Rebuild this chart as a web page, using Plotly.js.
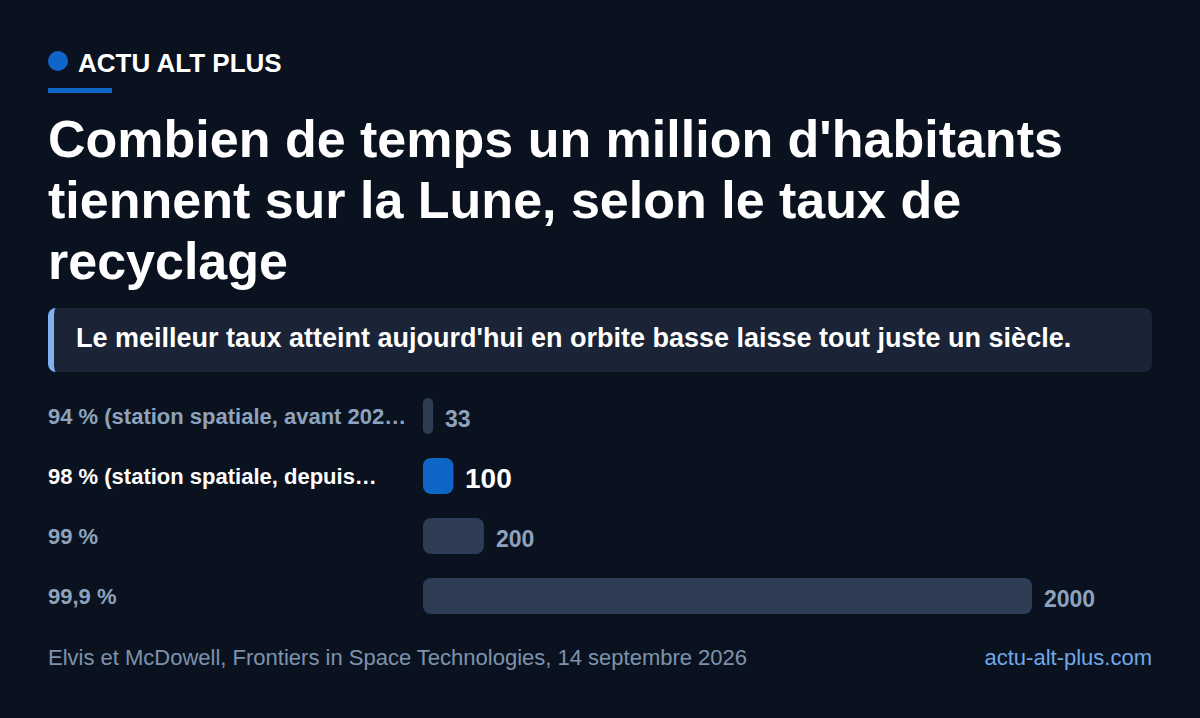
<!DOCTYPE html>
<html>
<head>
<meta charset="utf-8">
<script src="https://cdn.plot.ly/plotly-3.0.1.min.js"></script>
<style>
  html, body { margin: 0; padding: 0; background: #0b121f; }
  body { width: 1200px; height: 718px; position: relative; overflow: hidden;
         font-family: "Liberation Sans", Arial, sans-serif; }
  .brand { position: absolute; left: 48px; top: 47px; color: #ffffff; font-weight: bold;
           font-size: 26px; line-height: 32px; }
  .brand .dot { position: absolute; left: 0; top: 4px; width: 20px; height: 20px;
                border-radius: 50%; background: #0f66c8; }
  .brand .name { position: absolute; left: 30px; top: 0; white-space: nowrap; }
  .rule { position: absolute; left: 48px; top: 88px; width: 64px; height: 5px; background: #0f66c8; }
  h1 { position: absolute; left: 48px; top: 109px; width: 1110px; margin: 0; color: #ffffff;
       font-size: 52px; line-height: 61px; font-weight: bold; }
  .note { position: absolute; left: 48px; top: 308px; width: 1104px; height: 64px;
          background: #1a2436; border-radius: 8px; box-sizing: border-box;
          border-left: 6px solid #7fb2ee; }
  .note span { position: absolute; left: 22px; top: 14px; color: #ffffff; font-weight: bold;
               font-size: 27px; line-height: 32px; white-space: nowrap; }
  #chart { position: absolute; left: 0; top: 386px; width: 1200px; height: 240px; }
  .src { position: absolute; left: 48px; top: 645px; color: #7d93ad; font-size: 22px; line-height: 26px; }
  .site { position: absolute; right: 48px; top: 645px; color: #6fa8e8; font-size: 22px; line-height: 26px; }
</style>
</head>
<body>
<div class="brand"><div class="dot"></div><div class="name">ACTU ALT PLUS</div></div>
<div class="rule"></div>
<h1>Combien de temps un million d'habitants tiennent sur la Lune, selon le taux de recyclage</h1>
<div class="note"><span>Le meilleur taux atteint aujourd'hui en orbite basse laisse tout juste un siècle.</span></div>
<div id="chart"></div>
<div class="src">Elvis et McDowell, Frontiers in Space Technologies, 14 septembre 2026</div>
<div class="site">actu-alt-plus.com</div>
<script>
// taux de recyclage -> années
const labels = ['94 % (station spatiale, avant 202…', '98 % (station spatiale, depuis…', '99 %', '99,9 %'];
const years = [33, 100, 200, 2000];
const highlight = 1;

const grey = '#2e3d55';
const blue = '#0f66c8';

const colors = years.map((v, i) => i == highlight ? blue : grey);
const maxVal = Math.max(...years);

// an explicit base makes plotly round both ends of the bar
const trace = {
  type: 'bar', orientation: 'h',
  y: labels,
  x: years,
  base: years.map(() => 0),
  marker: { color: colors, cornerradius: 8, line: { width: 0 } },
  hoverinfo: 'skip', textposition: 'none'
};

let annotations = [];
labels.forEach((lab, i) => {
  let hi = i == highlight;
  annotations.push({
    xref: 'paper', yref: 'y', x: 0, y: lab, xanchor: 'left', xshift: -377,
    text: '<b>' + lab + '</b>', showarrow: false,
    font: { family: 'Liberation Sans, Arial, sans-serif', size: 22, color: hi ? '#ffffff' : '#8da2bd' }
  });
  annotations.push({
    xref: 'x', yref: 'y', x: years[i], y: lab, xanchor: 'left', xshift: 10, yshift: hi ? -2 : -3,
    text: '<b>' + years[i] + '</b>', showarrow: false,
    font: { family: 'Liberation Sans, Arial, sans-serif', size: hi ? 28 : 23, color: hi ? '#ffffff' : '#8da2bd' }
  });
});

const layout = {
  width: 1200, height: 240,
  margin: { l: 423, r: 48, t: 0, b: 0 },
  paper_bgcolor: 'rgba(0,0,0,0)',
  plot_bgcolor: 'rgba(0,0,0,0)',
  bargap: 0.4,
  showlegend: false,
  xaxis: { range: [0, maxVal * 729 / 609], visible: false, fixedrange: true },
  yaxis: { type: 'category', autorange: 'reversed', visible: false, fixedrange: true },
  annotations: annotations
};

Plotly.newPlot('chart', [trace], layout, { displayModeBar: false, staticPlot: true });
</script>
</body>
</html>
